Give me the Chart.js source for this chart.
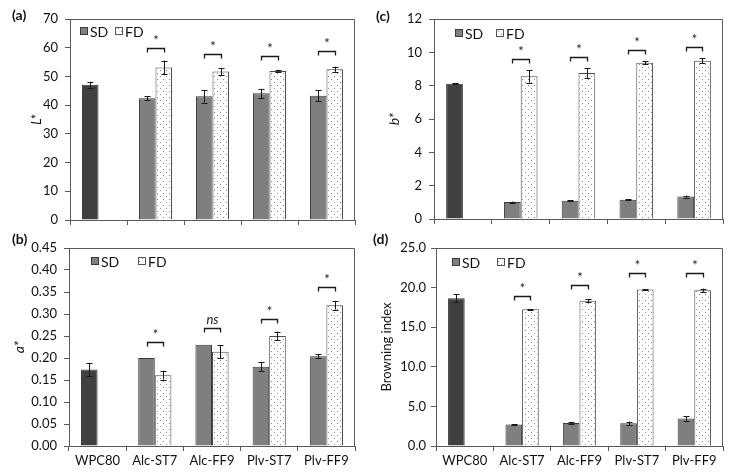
<!DOCTYPE html>
<html>
<head>
<meta charset="utf-8">
<script src="https://cdn.jsdelivr.net/npm/chart.js@4"></script>
<style>
  body { margin: 0; background: #fff; width: 731px; height: 474px; position: relative; overflow: hidden; }
  canvas { position: absolute; }
</style>
</head>
<body>
<canvas id="ca" width="365" height="230" style="left:0;top:0"></canvas>
<canvas id="cb" width="365" height="244" style="left:0;top:230px"></canvas>
<canvas id="cc" width="366" height="230" style="left:365px;top:0"></canvas>
<canvas id="cd" width="366" height="244" style="left:365px;top:230px"></canvas>
<script>
// категории
const categories = ['WPC80', 'Alc-ST7', 'Alc-FF9', 'Plv-ST7', 'Plv-FF9'];

// (a) L*
const lSD = [47.1, 42.4, 43.1, 44.1, 43.3];
const lSDErr = [1.1, 0.7, 2.2, 1.6, 1.8];
const lFD = [null, 53.1, 51.7, 51.9, 52.5];
const lFDErr = [0, 2.4, 1.3, 0.4, 0.9];
const lSig = [null, 59.8, 57.7, 57.1, 58.9];
const lSigText = [null, '*', '*', '*', '*'];

// (b) a*
const aSD = [0.174, 0.200, 0.230, 0.180, 0.204];
const aSDErr = [0.015, 0, 0, 0.01, 0.005];
const aFD = [null, 0.161, 0.214, 0.250, 0.320];
const aFDErr = [0, 0.01, 0.015, 0.01, 0.01];
const aSig = [null, 0.237, 0.268, 0.288, 0.361];
const aSigText = [null, '*', 'ns', '*', '*'];

// (c) b*
const bSD = [8.12, 1.02, 1.10, 1.16, 1.35];
const bSDErr = [0.03, 0.03, 0.03, 0.04, 0.06];
const bFD = [null, 8.56, 8.76, 9.38, 9.50];
const bFDErr = [0, 0.38, 0.30, 0.10, 0.15];
const bSig = [null, 9.6, 9.72, 10.16, 10.3];
const bSigText = [null, '*', '*', '*', '*'];

// (d) Browning index
const biSD = [18.65, 2.7, 2.9, 2.87, 3.46];
const biSDErr = [0.5, 0.06, 0.1, 0.2, 0.3];
const biFD = [null, 17.26, 18.35, 19.75, 19.68];
const biFDErr = [0, 0.05, 0.15, 0.05, 0.2];
const biSig = [null, 18.95, 20.3, 21.8, 21.9];
const biSigText = [null, '*', '*', '*', '*'];

const FONT = 'Lato, "Open Sans", sans-serif';
const AXIS = '#595959';

// точечная заливка для FD
function dots() {
    const c = document.createElement('canvas');
    c.width = 6; c.height = 6;
    const g = c.getContext('2d');
    g.fillStyle = '#fff';
    g.fillRect(0, 0, 6, 6);
    g.fillStyle = '#8a8a8a';
    g.fillRect(1, 1, 1, 1);
    g.fillRect(4, 4, 1, 1);
    return g.createPattern(c, 'repeat');
}

// ошибки, скобки значимости, рамка, легенда, подписи
const extras = {
    id: 'extras',
    afterDraw(chart) {
        const p = chart.options.plugins.extras;
        const ctx = chart.ctx;
        const y = chart.scales.y;
        const area = chart.chartArea;
        ctx.save();

        // рамка области построения
        ctx.strokeStyle = AXIS;
        ctx.lineWidth = 1;
        ctx.beginPath();
        ctx.moveTo(Math.round(area.left) + 0.5, Math.round(area.top) + 0.5);
        ctx.lineTo(Math.round(area.right) - 0.5, Math.round(area.top) + 0.5);
        ctx.lineTo(Math.round(area.right) - 0.5, Math.round(area.bottom));
        ctx.stroke();

        // планки погрешностей
        ctx.strokeStyle = '#1a1a1a';
        [p.sdErr, p.fdErr].forEach((errs, d) => {
            const meta = chart.getDatasetMeta(d);
            const vals = chart.data.datasets[d].data;
            meta.data.forEach((bar, i) => {
                if (vals[i] == null || !errs[i]) return;
                const x = Math.round(bar.x) + 0.5;
                const y1 = y.getPixelForValue(vals[i] + errs[i]);
                const y2 = y.getPixelForValue(vals[i] - errs[i]);
                ctx.beginPath();
                ctx.moveTo(x, y1); ctx.lineTo(x, y2);
                ctx.moveTo(x - 3, Math.round(y1) + 0.5); ctx.lineTo(x + 3, Math.round(y1) + 0.5);
                ctx.moveTo(x - 3, Math.round(y2) + 0.5); ctx.lineTo(x + 3, Math.round(y2) + 0.5);
                ctx.stroke();
            });
        });

        // скобки значимости
        const m0 = chart.getDatasetMeta(0), m1 = chart.getDatasetMeta(1);
        ctx.strokeStyle = '#1a1a1a';
        ctx.fillStyle = '#1a1a1a';
        ctx.textAlign = 'center';
        p.sig.forEach((v, i) => {
            if (v == null) return;
            const x1 = Math.round(m0.data[i].x) + 0.5;
            const x2 = Math.round(m1.data[i].x) + 0.5;
            const yy = Math.round(y.getPixelForValue(v)) + 0.5;
            ctx.lineWidth = 1.3;
            ctx.beginPath();
            ctx.moveTo(x1, yy + 4); ctx.lineTo(x1, yy); ctx.lineTo(x2, yy); ctx.lineTo(x2, yy + 4);
            ctx.stroke();
            const t = p.sigText[i];
            if (t === 'ns') {
                ctx.font = 'italic 13px ' + FONT;
                ctx.textBaseline = 'alphabetic';
                ctx.fillText(t, (x1 + x2) / 2, yy - 5);
            } else {
                ctx.font = '13px ' + FONT;
                ctx.textBaseline = 'middle';
                ctx.fillText(t, (x1 + x2) / 2, yy - 8);
            }
        });

        // легенда
        const lg = p.legend;
        ctx.lineWidth = 1;
        ctx.fillStyle = '#7f7f7f';
        ctx.fillRect(lg.sdX, lg.y - 4, 8, 8);
        ctx.strokeStyle = '#3a3a3a';
        ctx.strokeRect(lg.sdX + 0.5, lg.y - 3.5, 7, 7);
        ctx.fillStyle = chart.data.datasets[1].backgroundColor;
        ctx.fillRect(lg.fdX, lg.y - 4, 8, 8);
        ctx.strokeStyle = '#555';
        ctx.strokeRect(lg.fdX + 0.5, lg.y - 3.5, 7, 7);
        ctx.fillStyle = '#111';
        ctx.font = '14px ' + FONT;
        ctx.textAlign = 'left';
        ctx.textBaseline = 'middle';
        ctx.fillText('SD', lg.sdX + 10, lg.y + 1);
        ctx.fillText('FD', lg.fdX + 10, lg.y + 1);

        // метка панели
        ctx.font = 'bold 14px ' + FONT;
        ctx.fillText(p.tag, p.tagX, p.tagY);

        // подпись оси Y
        ctx.translate(p.titleX, (area.top + area.bottom) / 2);
        ctx.rotate(-Math.PI / 2);
        ctx.textAlign = 'center';
        ctx.font = (p.titleItalic ? 'italic 14px ' : '13px ') + FONT;
        ctx.fillText(p.title, 0, 0);
        ctx.restore();
    }
};

function makePanel(id, cfg) {
    const canvas = document.getElementById(id);
    return new Chart(canvas, {
        type: 'bar',
        data: {
            labels: categories,
            datasets: [
                {
                    label: 'SD',
                    data: cfg.sd,
                    backgroundColor: categories.map((c, i) => i === 0 ? '#404040' : '#7f7f7f'),
                    borderColor: '#3a3a3a',
                    borderWidth: 1,
                    categoryPercentage: 0.58,
                    barPercentage: 1
                },
                {
                    label: 'FD',
                    data: cfg.fd,
                    backgroundColor: dots(),
                    borderColor: '#4a4a4a',
                    borderWidth: 1,
                    categoryPercentage: 0.58,
                    barPercentage: 1
                }
            ]
        },
        options: {
            responsive: false,
            animation: false,
            layout: { padding: { left: 0, top: cfg.area.t, right: canvas.width - cfg.area.r, bottom: 0 } },
            plugins: {
                legend: { display: false },
                tooltip: { enabled: false },
                extras: cfg
            },
            scales: {
                x: {
                    grid: { offset: true, drawOnChartArea: false, tickLength: 5, color: AXIS },
                    border: { color: AXIS },
                    ticks: { display: cfg.showX, color: '#111', padding: 2, font: { family: FONT, size: 13 } },
                    afterFit: s => { s.height = canvas.height - cfg.area.b; }
                },
                y: {
                    min: cfg.min,
                    max: cfg.max,
                    grid: { drawOnChartArea: false, tickLength: 5, color: AXIS },
                    border: { color: AXIS },
                    ticks: {
                        stepSize: cfg.step,
                        color: '#111',
                        padding: cfg.tickPad,
                        font: { family: FONT, size: 13 },
                        callback: v => Number(v).toFixed(cfg.dec)
                    },
                    afterFit: s => {
                        s.width = cfg.area.l;
                        s.paddingTop = 0;
                        s.paddingBottom = 0;
                    }
                }
            }
        },
        plugins: [extras]
    });
}

makePanel('ca', {
    sd: lSD, sdErr: lSDErr, fd: lFD, fdErr: lFDErr, sig: lSig, sigText: lSigText,
    min: 0, max: 70, step: 10, dec: 0, tickPad: 7,
    area: { l: 70, t: 19, r: 355, b: 220 }, showX: false,
    title: 'L*', titleItalic: true, titleX: 36,
    tag: '(a)', tagX: 12, tagY: 15,
    legend: { sdX: 80, fdX: 115, y: 31 }
});

makePanel('cb', {
    sd: aSD, sdErr: aSDErr, fd: aFD, fdErr: aFDErr, sig: aSig, sigText: aSigText,
    min: 0, max: 0.45, step: 0.05, dec: 2, tickPad: 7,
    area: { l: 69, t: 18, r: 355, b: 216 }, showX: true,
    title: 'a*', titleItalic: true, titleX: 19,
    tag: '(b)', tagX: 12, tagY: 9,
    legend: { sdX: 91, fdX: 138, y: 31 }
});

makePanel('cc', {
    sd: bSD, sdErr: bSDErr, fd: bFD, fdErr: bFDErr, sig: bSig, sigText: bSigText,
    min: 0, max: 12, step: 2, dec: 0, tickPad: 7,
    area: { l: 69, t: 19, r: 358, b: 219 }, showX: false,
    title: 'b*', titleItalic: true, titleX: 29,
    tag: '(c)', tagX: 11, tagY: 16,
    legend: { sdX: 90, fdX: 131, y: 33 }
});

makePanel('cd', {
    sd: biSD, sdErr: biSDErr, fd: biFD, fdErr: biFDErr, sig: biSig, sigText: biSigText,
    min: 0, max: 25, step: 5, dec: 1, tickPad: 5,
    area: { l: 71, t: 18, r: 358, b: 216 }, showX: true,
    title: 'Browning index', titleItalic: false, titleX: 22,
    tag: '(d)', tagX: 8, tagY: 9,
    legend: { sdX: 87, fdX: 132, y: 32 }
});
</script>
</body>
</html>
